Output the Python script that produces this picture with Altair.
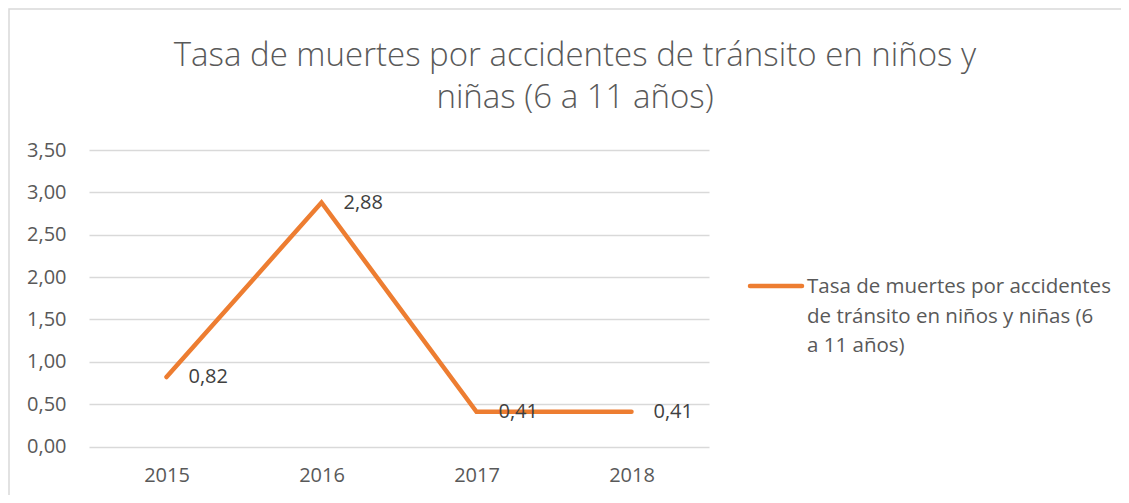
import altair as alt
import pandas as pd

years = ["2015", "2016", "2017", "2018"]
values = [0.82, 2.88, 0.41, 0.41]
series_name = "Tasa de muertes por accidentes de tránsito en niños y  niñas (6 a 11 años)"
legend_lines = ["Tasa de muertes por accidentes", "de tránsito en niños y  niñas (6", "a 11 años)"]
title_lines = ["Tasa de muertes por accidentes de tránsito en niños y", "niñas (6 a 11 años)"]
y_ticks = [0, 0.5, 1.0, 1.5, 2.0, 2.5, 3.0, 3.5]

df = pd.DataFrame({"year": years, "value": values, "serie": series_name})

FONT = "Open Sans"
ORANGE = "#ED7D31"
GRAY = "#595959"

x = alt.X("year:N", sort=years,
          scale=alt.Scale(paddingInner=0, paddingOuter=0),
          axis=alt.Axis(title=None, labelAngle=0, ticks=False, domain=False,
                        labelPadding=19, labelFontSize=20, labelColor=GRAY,
                        labelFont=FONT, grid=False))
y = alt.Y("value:Q", scale=alt.Scale(domain=[0, 3.5], nice=False),
          axis=alt.Axis(title=None, values=y_ticks, ticks=False, domain=False,
                        labelPadding=23, labelFontSize=20, labelColor=GRAY,
                        labelFont=FONT, gridColor="#d9d9d9", gridWidth=1.5,
                        labelExpr="replace(format(datum.value, '.2f'), '.', ',')"))

base = alt.Chart(df)

line = base.mark_line(color=ORANGE, strokeWidth=4.5, strokeCap="round",
                      strokeJoin="miter").encode(x=x, y=y)

labels = base.mark_text(align="left", baseline="middle", dx=22, fontSize=20,
                        font=FONT, color="#404040").encode(
    x=x, y=y, text=alt.Text("label:N")
).transform_calculate(label="replace(format(datum.value, '.2f'), '.', ',')")

legend_rule = base.mark_rule(color=ORANGE, strokeWidth=4.5, strokeCap="round").encode(
    x=alt.value(661), x2=alt.value(713), y=alt.value(136)
).transform_filter("datum.year == '2015'")

legend_text = base.mark_text(align="left", baseline="middle", fontSize=20.5, font=FONT,
                             color=GRAY, lineHeight=29.5,
                             text=legend_lines).encode(
    x=alt.value(718), y=alt.value(137)
).transform_filter("datum.year == '2015'")

border = base.mark_rect(fill=None, stroke="#d9d9d9", strokeWidth=1.5).encode(
    x=alt.value(-80), x2=alt.value(1200), y=alt.value(-141), y2=alt.value(700)
).transform_filter("datum.year == '2015'")

chart = alt.layer(border, line, labels, legend_rule, legend_text).properties(
    width=620, height=296.5,
    autosize=alt.AutoSizeParams(type="none"),
    padding={"left": 81, "top": 142, "right": 412, "bottom": 48},
    title=alt.TitleParams(text=title_lines, font=FONT, fontSize=33, fontWeight=300,
                          color=GRAY, anchor="middle", lineHeight=42, dx=176,
                          baseline="bottom", offset=-140, frame="group"),
).configure_view(stroke=None)

chart.save("out.html", embed_options={"renderer": "svg", "actions": False})
